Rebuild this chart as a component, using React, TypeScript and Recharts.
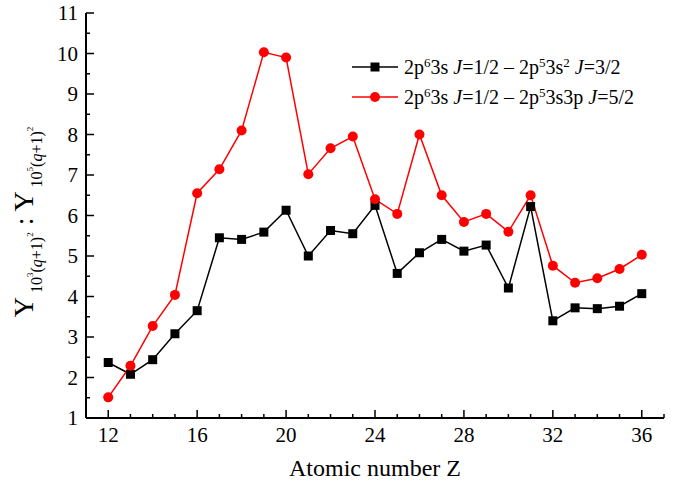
import { LineChart, Line, XAxis, YAxis, Legend } from "recharts";

const atomicNumbers = [12, 13, 14, 15, 16, 17, 18, 19, 20, 21, 22, 23, 24, 25, 26, 27, 28, 29, 30, 31, 32, 33, 34, 35, 36];

// 2p6 3s J=1/2 - 2p5 3s2 J=3/2
const ratioS2 = [2.37, 2.08, 2.44, 3.08, 3.65, 5.45, 5.41, 5.59, 6.13, 5.0, 5.63, 5.55, 6.25, 4.57, 5.08, 5.41, 5.12, 5.27, 4.21, 6.22, 3.4, 3.72, 3.7, 3.76, 4.07];
// 2p6 3s J=1/2 - 2p5 3s3p J=5/2
const ratioS3p = [1.51, 2.29, 3.27, 4.04, 6.55, 7.14, 8.1, 10.03, 9.9, 7.02, 7.66, 7.95, 6.4, 6.04, 8.0, 6.5, 5.84, 6.04, 5.6, 6.5, 4.76, 4.34, 4.45, 4.68, 5.03];

const xTicks = [11, 12, 13, 14, 15, 16, 17, 18, 19, 20, 21, 22, 23, 24, 25, 26, 27, 28, 29, 30, 31, 32, 33, 34, 35, 36, 37];
const xLabels = [12, 16, 20, 24, 28, 32, 36];
const yTicks = [1, 1.5, 2, 2.5, 3, 3.5, 4, 4.5, 5, 5.5, 6, 6.5, 7, 7.5, 8, 8.5, 9, 9.5, 10, 10.5, 11];

const data = atomicNumbers.map((z, i) => ({ z, s2: ratioS2[i], s3p: ratioS3p[i] }));

const FONT = "'Liberation Serif', 'Times New Roman', serif";

function BottomTick({ x, y, payload }: any) {
  const v = payload.value;
  const major = xLabels.includes(v);
  return (
    <g>
      <line x1={x} x2={x} y1={y} y2={y - (major ? 8 : 4)} stroke="#000" strokeWidth={1.5} />
      {major && (
        <text x={x} y={y + 24} textAnchor="middle" fontFamily={FONT} fontSize={21} fill="#000">
          {v}
        </text>
      )}
    </g>
  );
}

function TopTick({ x, y, payload }: any) {
  const major = xLabels.includes(payload.value);
  return <line x1={x} x2={x} y1={y} y2={y + (major ? 8 : 4)} stroke="#000" strokeWidth={1.5} />;
}

function LeftTick({ x, y, payload }: any) {
  const v = payload.value;
  const major = Number.isInteger(v);
  return (
    <g>
      <line x1={x} x2={x + (major ? 8 : 4)} y1={y} y2={y} stroke="#000" strokeWidth={1.5} />
      {major && (
        <text x={x - 8} y={y + 7} textAnchor="end" fontFamily={FONT} fontSize={21} fill="#000">
          {v}
        </text>
      )}
    </g>
  );
}

function RightTick({ x, y, payload }: any) {
  const major = Number.isInteger(payload.value);
  return <line x1={x} x2={x - (major ? 8 : 4)} y1={y} y2={y} stroke="#000" strokeWidth={1.5} />;
}

function SquareDot({ cx, cy, index }: any) {
  return <rect key={`sq-${index}`} x={cx - 4.5} y={cy - 4.5} width={9} height={9} fill="#000" />;
}

function CircleDot({ cx, cy, index }: any) {
  return <circle key={`ci-${index}`} cx={cx} cy={cy} r={5} fill="#ff0000" />;
}

function YTitle() {
  return (
    <text transform="translate(33,222) rotate(-90)" textAnchor="middle" fontFamily={FONT} fill="#000">
      <tspan fontSize={28}>Υ</tspan>
      <tspan fontSize={16} dy={9}> 10</tspan>
      <tspan fontSize={9} dy={-9}>3</tspan>
      <tspan fontSize={16} dy={9}>(</tspan>
      <tspan fontSize={16} fontStyle="italic">q</tspan>
      <tspan fontSize={16}>+1)</tspan>
      <tspan fontSize={9} dy={-9}>2</tspan>
      <tspan fontSize={28} dy={0}> : Υ</tspan>
      <tspan fontSize={16} dy={9}> 10</tspan>
      <tspan fontSize={9} dy={-9}>5</tspan>
      <tspan fontSize={16} dy={9}>(</tspan>
      <tspan fontSize={16} fontStyle="italic">q</tspan>
      <tspan fontSize={16}>+1)</tspan>
      <tspan fontSize={9} dy={-9}>2</tspan>
    </text>
  );
}

function XTitle() {
  return (
    <text x={375} y={476} textAnchor="middle" fontFamily={FONT} fontSize={24} fill="#000">
      Atomic number Z
    </text>
  );
}

const supStyle = { fontSize: 13, verticalAlign: "7px", lineHeight: 0 } as const;

function LegendBox() {
  const row = (color: string, square: boolean, label: any) => (
    <div style={{ display: "flex", alignItems: "center", height: 30 }}>
      <svg width={50} height={20} style={{ marginRight: 4 }}>
        <line x1={2} x2={48} y1={10} y2={10} stroke={color} strokeWidth={1.5} />
        {square ? (
          <rect x={20.5} y={5.5} width={9} height={9} fill={color} />
        ) : (
          <circle cx={25} cy={10} r={5} fill={color} />
        )}
      </svg>
      <span style={{ fontFamily: FONT, fontSize: 20, color: "#000", whiteSpace: "nowrap" }}>{label}</span>
    </div>
  );
  return (
    <div>
      {row(
        "#000",
        true,
        <>
          2p<span style={supStyle}>6</span>3s <i>J</i>=1/2 – 2p<span style={supStyle}>5</span>3s
          <span style={supStyle}>2</span> <i>J</i>=3/2
        </>
      )}
      {row(
        "#ff0000",
        false,
        <>
          2p<span style={supStyle}>6</span>3s <i>J</i>=1/2 – 2p<span style={supStyle}>5</span>3s3p <i>J</i>=5/2
        </>
      )}
    </div>
  );
}

export default function App() {
  return (
    <div style={{ position: "fixed", left: 0, top: 0, width: 676, height: 481, background: "#fff" }}>
      <LineChart width={676} height={481} data={data} margin={{ top: 13, right: 12, bottom: 23, left: 36 }}>
        <XAxis
          xAxisId="b"
          dataKey="z"
          type="number"
          domain={[11, 37]}
          ticks={xTicks}
          interval={0}
          tick={BottomTick}
          tickLine={false}
          tickSize={0}
          tickMargin={0}
          height={40}
          axisLine={{ stroke: "#000", strokeWidth: 2 }}
          label={{ content: () => <XTitle /> }}
          allowDataOverflow
        />
        <XAxis
          xAxisId="t"
          orientation="top"
          dataKey="z"
          type="number"
          domain={[11, 37]}
          ticks={xTicks}
          interval={0}
          tick={TopTick}
          tickLine={false}
          tickSize={0}
          tickMargin={0}
          height={0}
          axisLine={{ stroke: "#000", strokeWidth: 2 }}
          allowDataOverflow
        />
        <YAxis
          yAxisId="l"
          type="number"
          domain={[1, 11]}
          ticks={yTicks}
          interval={0}
          tick={LeftTick}
          tickLine={false}
          tickSize={0}
          tickMargin={0}
          width={50}
          axisLine={{ stroke: "#000", strokeWidth: 2 }}
          label={{ content: () => <YTitle /> }}
          allowDataOverflow
        />
        <YAxis
          yAxisId="r"
          orientation="right"
          type="number"
          domain={[1, 11]}
          ticks={yTicks}
          interval={0}
          tick={RightTick}
          tickLine={false}
          tickSize={0}
          tickMargin={0}
          width={0}
          axisLine={{ stroke: "#000", strokeWidth: 2 }}
          allowDataOverflow
        />
        <Legend
          layout="horizontal"
          verticalAlign="middle"
          align="center"
          content={() => <LegendBox />}
          wrapperStyle={{ top: 52, left: 350, width: 320 }}
        />
        <Line
          xAxisId="b"
          yAxisId="l"
          dataKey="s2"
          stroke="#000"
          strokeWidth={1.5}
          dot={SquareDot}
          activeDot={false}
          isAnimationActive={false}
        />
        <Line
          xAxisId="b"
          yAxisId="l"
          dataKey="s3p"
          stroke="#ff0000"
          strokeWidth={1.5}
          dot={CircleDot}
          activeDot={false}
          isAnimationActive={false}
        />
      </LineChart>
    </div>
  );
}
